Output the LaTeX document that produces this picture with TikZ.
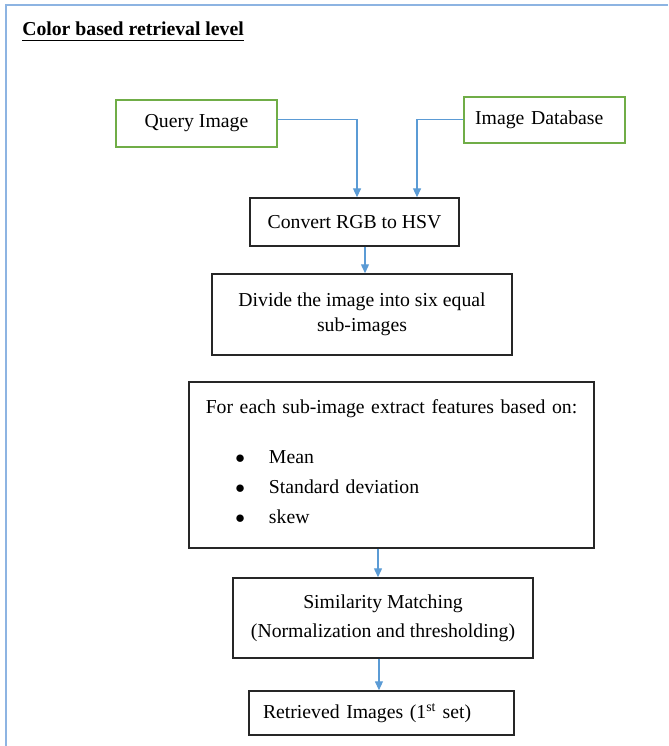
\documentclass[tikz,border=0pt]{standalone}
\usepackage{fontspec}
\setmainfont{Liberation Serif}
\usetikzlibrary{arrows.meta}
\definecolor{frameblue}{HTML}{8DB4E2}
\definecolor{linkblue}{HTML}{5B9BD5}
\definecolor{boxgreen}{HTML}{70AD47}
\tikzset{
    stepbox/.style={draw=black!85, line width=1.1pt, rectangle, inner sep=0pt, align=center,
        font=\fontsize{14.8}{18}\selectfont},
    inputbox/.style={stepbox, draw=boxgreen},
    link/.style={draw=linkblue, line width=1pt, -{Triangle[length=6.75pt,width=6pt]}},
    framebox/.style={draw=frameblue, line width=1.5pt}
}
\begin{document}
\begin{tikzpicture}[x=0.75pt,y=-0.75pt]
        \useasboundingbox (0,0) rectangle (668,746);
        \draw[framebox] (6,746) -- (6,5) -- (668,5);
        \node[anchor=base west, inner sep=0pt, font=\fontsize{14.8}{18}\selectfont\bfseries] (title) at (22,35.5)
            {\underline{\vphantom{\rule[-2.5pt]{0pt}{1pt}}Color based retrieval level}};
        \node[inputbox, minimum width=120.75pt, minimum height=35.25pt] (query) at (196.5,123.5) {Query Image};
        \node[inputbox, text width=104pt, align=left, inner xsep=8.25pt, minimum height=34.2pt] (database) at (544.5,120) {Image Database};
        \node[stepbox, minimum width=156.75pt, minimum height=36pt] (convert) at (354.5,222) {Convert RGB to HSV};
        \node[stepbox, minimum width=225pt, minimum height=60.75pt, font=\fontsize{14.8}{18.5}\selectfont] (divide) at (362,314.5)
            {Divide the image into six equal\\sub-images};
        \node[stepbox, text width=290pt, minimum width=303.75pt, minimum height=124.5pt] (features) at (391.5,465)
            {For each sub-image extract features based on:\\[19.5pt]
            \begin{tabular}[t]{@{}c@{\hspace{18pt}}p{209pt}@{}}
            $\bullet$ & Mean\\[4.5pt]
            $\bullet$ & Standard deviation\\[4.5pt]
            $\bullet$ & skew
            \end{tabular}};
        \node[stepbox, minimum width=225pt, minimum height=60pt, font=\fontsize{14.8}{21.5}\selectfont] (matching) at (383,618)
            {Similarity Matching\\(Normalization and thresholding)};
        \node[stepbox, text width=177.75pt, align=left, inner xsep=10.5pt, minimum height=33pt] (retrieved) at (381.5,713)
            {Retrieved Images (1\textsuperscript{st} set)};
        % arrows
        \draw[link] ([yshift=3.2pt]query.east) -| ([xshift=1.9pt]convert.north);
        \draw[link] ([yshift=0.5pt]database.west) -| ([xshift=46.9pt]convert.north);
        \draw[link] ([xshift=2.25pt]divide.north |- convert.south) -- ([xshift=2.25pt]divide.north);
        \draw[link] ([xshift=-3.75pt]matching.north |- features.south) -- ([xshift=-3.75pt]matching.north);
        \draw[link] ([xshift=-1.9pt]retrieved.north |- matching.south) -- ([xshift=-1.9pt]retrieved.north);
\end{tikzpicture}
\end{document}
